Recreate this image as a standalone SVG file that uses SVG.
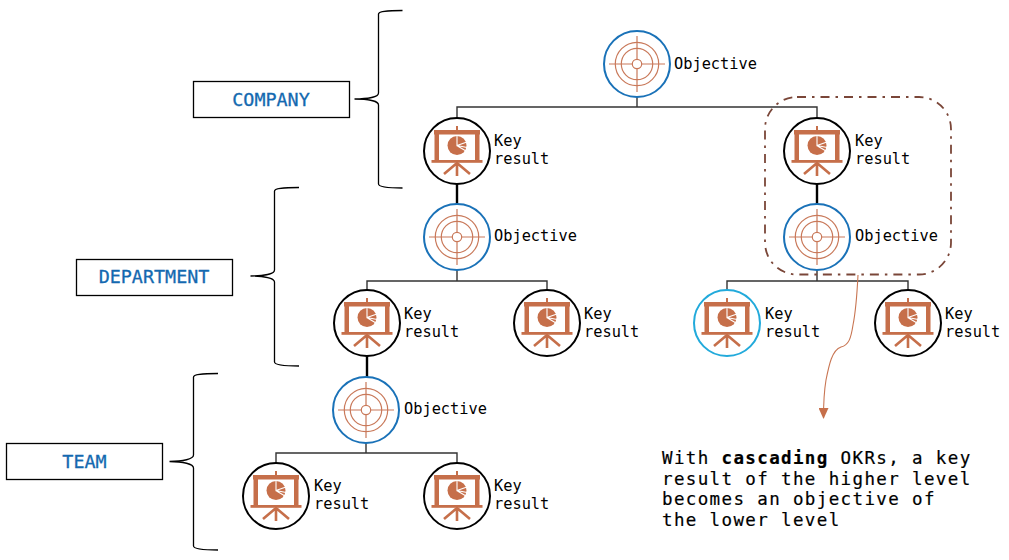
<svg xmlns="http://www.w3.org/2000/svg" width="1009" height="560" viewBox="0 0 1009 560">
<style>
text{font-family:"DejaVu Sans Mono","Liberation Mono",monospace;fill:#000}
.lb{font-size:15.3px}
.lv{font-size:18.4px;fill:#1469b0;stroke:#1469b0;stroke-width:.3;text-anchor:middle}
.note{font-size:17.5px;letter-spacing:1.37px;stroke:#000;stroke-width:.2}
.box{fill:#fff;stroke:#000;stroke-width:1.3}
.brace{fill:none;stroke:#000;stroke-width:1.3}
.tree{fill:none;stroke:#333;stroke-width:1.4}
.thick{fill:none;stroke:#000;stroke-width:2.4}
.ob{fill:#fff;stroke:#1a72b8;stroke-width:2}
.kr{fill:#fff;stroke:#000;stroke-width:2}
.krb{fill:#fff;stroke:#22aadb;stroke-width:2}
.tg{fill:none;stroke:#c9795a;stroke-width:1.2}
.bd{fill:#c66f4a;stroke:none}
.bl{fill:none;stroke:#c66f4a;stroke-width:2.6}
.cut{fill:none;stroke:#fff;stroke-width:1.1}
</style>
<defs>
<marker id="ah" markerUnits="userSpaceOnUse" markerWidth="11" markerHeight="10" refX="10" refY="5" orient="auto" viewBox="0 0 11 10"><path d="M0,0L11,5L0,10Z" fill="#c66f4a"/></marker>
<g id="target">
<circle class="tg" r="4.7"/><circle class="tg" r="15.7"/><circle class="tg" r="21.7"/>
<path class="tg" d="M-28,0H-4.7M4.7,0H28M0,-28V-4.700M0,4.700V28"/>
</g>
<g id="board">
<rect class="bd" x="-1" y="-25" width="2" height="4"/>
<rect class="bd" x="-23" y="-21" width="46" height="4.500"/>
<rect class="bd" x="-22.500" y="-18" width="4.500" height="28"/>
<rect class="bd" x="18" y="-18" width="4.500" height="28"/>
<rect class="bd" x="-25.500" y="9" width="51" height="2.800"/>
<path class="bl" d="M0,11V25M0,12L-13,23M0,12L13,23"/>
<circle class="bd" cy="-5.500" r="9.500"/>
<path class="cut" d="M0,-16V-5.500L10,-9M0,-5.500L10,-3.500M0.500,-5L9,0"/>
</g>
</defs>
<rect width="1009" height="560" fill="#fff"/>
<g id="connectors">
<path class="tree" d="M637,97V107M457,118V107H817V118"/>
<path class="tree" d="M457,270V281M367,290V281H547V290"/>
<path class="tree" d="M817,270V281M727,290V281H908V290"/>
<path class="tree" d="M366,443V453M276,463V453H457V463"/>
<path class="thick" d="M457,184V204M817,184V204M367,356V377"/>
<path d="M858,275C857,295 856,310 853,325C851,338 849,345 841,347C832,350 829,365 826,380C824,392 823.500,402 823.500,418" fill="none" stroke="#c87552" stroke-width="1.1" marker-end="url(#ah)"/>
</g>
<g id="cascade-region"><rect x="765" y="97" width="186" height="177.500" rx="32" fill="none" stroke="#7a4638" stroke-width="1.800" stroke-dasharray="9 6 2.500 6"/></g>
<g id="brace-company"><path class="brace" d="M402.500,10.500C390,10.500 378.500,11 378.500,14V93C378.500,97 368,99 354.500,99C368,99 378.500,101 378.500,105V184C378.500,187 390,188 402.500,188"/></g>
<g id="brace-department"><path class="brace" d="M299,187.500C286,187.500 274.500,188 274.500,191V270C274.500,274 264,276 250.500,276C264,276 274.500,278 274.500,282V362C274.500,365 286,366 299,366"/></g>
<g id="brace-team"><path class="brace" d="M218,373.500C205,373.500 193.500,374 193.500,377V455C193.500,459 183,461.500 169.500,461.500C183,461.500 193.500,464 193.500,468V546C193.500,549 205,550 218,550"/></g>
<g id="level-company"><rect class="box" x="193.500" y="81.500" width="156" height="36"/><text class="lv" x="271" y="105.500">COMPANY</text></g>
<g id="level-department"><rect class="box" x="76.500" y="259.500" width="156" height="36"/><text class="lv" x="154" y="283">DEPARTMENT</text></g>
<g id="level-team"><rect class="box" x="6.500" y="443.500" width="156" height="36"/><text class="lv" x="84.500" y="467.500">TEAM</text></g>
<g id="obj-company"><circle class="ob" cx="637" cy="64" r="33"/><use href="#target" x="637" y="64"/><text class="lb" x="674" y="68.500">Objective</text></g>
<g id="kr-company-1"><circle class="kr" cx="457" cy="151" r="33"/><use href="#board" x="457" y="151"/><text class="lb" x="494" y="146">Key</text><text class="lb" x="494" y="164">result</text></g>
<g id="kr-company-2"><circle class="kr" cx="817" cy="151" r="33"/><use href="#board" x="817" y="151"/><text class="lb" x="855" y="146">Key</text><text class="lb" x="855" y="164">result</text></g>
<g id="obj-dept-1"><circle class="ob" cx="457" cy="237" r="33"/><use href="#target" x="457" y="237"/><text class="lb" x="494" y="240.500">Objective</text></g>
<g id="obj-dept-2"><circle class="ob" cx="817" cy="237" r="33"/><use href="#target" x="817" y="237"/><text class="lb" x="855" y="240.500">Objective</text></g>
<g id="kr-dept-1"><circle class="kr" cx="367" cy="323" r="33"/><use href="#board" x="367" y="323"/><text class="lb" x="404" y="319">Key</text><text class="lb" x="404" y="337">result</text></g>
<g id="kr-dept-2"><circle class="kr" cx="547" cy="323" r="33"/><use href="#board" x="547" y="323"/><text class="lb" x="584" y="319">Key</text><text class="lb" x="584" y="337">result</text></g>
<g id="kr-dept-3"><circle class="krb" cx="727" cy="323" r="33"/><use href="#board" x="727" y="323"/><text class="lb" x="765" y="319">Key</text><text class="lb" x="765" y="337">result</text></g>
<g id="kr-dept-4"><circle class="kr" cx="908" cy="323" r="33"/><use href="#board" x="908" y="323"/><text class="lb" x="945" y="319">Key</text><text class="lb" x="945" y="337">result</text></g>
<g id="obj-team"><circle class="ob" cx="366" cy="410" r="33"/><use href="#target" x="366" y="410"/><text class="lb" x="404" y="413.500">Objective</text></g>
<g id="kr-team-1"><circle class="kr" cx="276" cy="496" r="33"/><use href="#board" x="276" y="496"/><text class="lb" x="314" y="491">Key</text><text class="lb" x="314" y="509">result</text></g>
<g id="kr-team-2"><circle class="kr" cx="457" cy="496" r="33"/><use href="#board" x="457" y="496"/><text class="lb" x="494" y="491">Key</text><text class="lb" x="494" y="509">result</text></g>
<g id="note">
<text class="note" x="662" y="464">With <tspan font-weight="700">cascading</tspan> OKRs, a key</text>
<text class="note" x="662" y="484.500">result of the higher level</text>
<text class="note" x="662" y="505">becomes an objective of</text>
<text class="note" x="662" y="526">the lower level</text>
</g>
</svg>
